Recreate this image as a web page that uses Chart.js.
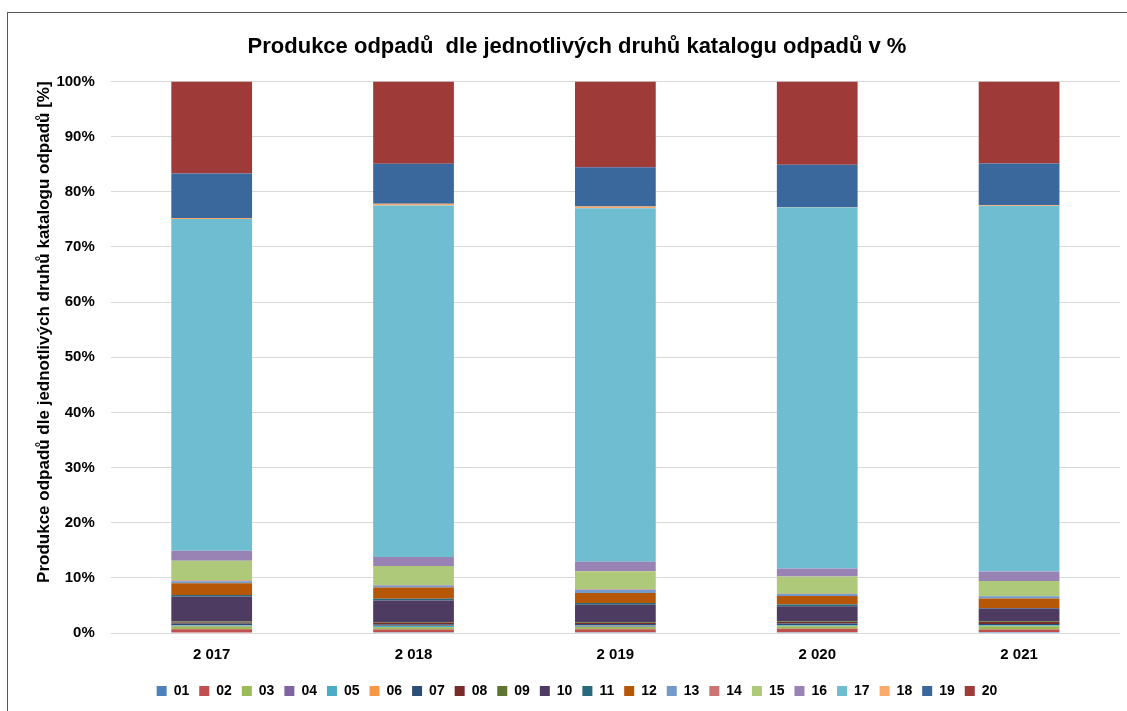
<!DOCTYPE html>
<html lang="cs">
<head>
<meta charset="utf-8">
<title>Produkce odpadů</title>
<script src="https://cdn.jsdelivr.net/npm/chart.js@4.4.1/dist/chart.umd.min.js"></script>
<style>
  html, body { margin: 0; padding: 0; background: #fff; }
  #wrap { width: 1127px; height: 711px; position: relative; }
</style>
</head>
<body>
<div id="wrap"><canvas id="graf"></canvas></div>
<script>
// Roky (popisky osy X)
const roky = ['2 017', '2 018', '2 019', '2 020', '2 021'];

// Skupiny katalogu odpadů
const skupiny = ['01', '02', '03', '04', '05', '06', '07', '08', '09', '10',
                 '11', '12', '13', '14', '15', '16', '17', '18', '19', '20'];

// Podíly jednotlivých skupin v %, roky 2017–2021
const s01 = [0.10, 0.15, 0.15, 0.15, 0.20];
const s02 = [0.60, 0.50, 0.54, 0.60, 0.44];
const s03 = [0.50, 0.40, 0.42, 0.49, 0.60];
const s04 = [0.05, 0.05, 0.05, 0.05, 0.05];
const s05 = [0.10, 0.15, 0.15, 0.10, 0.10];
const s06 = [0.05, 0.05, 0.05, 0.05, 0.05];
const s07 = [0.30, 0.30, 0.25, 0.30, 0.20];
const s08 = [0.20, 0.25, 0.20, 0.25, 0.35];
const s09 = [0.20, 0.15, 0.15, 0.15, 0.15];
const s10 = [4.50, 3.90, 3.14, 2.72, 2.30];
const s11 = [0.30, 0.30, 0.36, 0.30, 0.10];
const s12 = [2.10, 2.05, 1.80, 1.56, 1.70];
const s13 = [0.40, 0.36, 0.60, 0.36, 0.42];
const s14 = [0.10, 0.10, 0.05, 0.05, 0.05];
const s15 = [3.60, 3.45, 3.30, 3.10, 2.72];
const s16 = [1.80, 1.60, 1.70, 1.45, 1.70];
const s17 = [60.15, 63.74, 64.11, 65.47, 66.30];
const s18 = [0.20, 0.30, 0.30, 0.05, 0.10];
const s19 = [8.05, 7.26, 7.13, 7.70, 7.57];
const s20 = [16.70, 14.94, 15.55, 15.10, 14.90];

const hodnoty = [s01, s02, s03, s04, s05, s06, s07, s08, s09, s10,
                 s11, s12, s13, s14, s15, s16, s17, s18, s19, s20];

// Barvy (paleta Office)
const barvy = ['#4F81BD', '#C0504D', '#9BBB59', '#8064A2', '#4BACC6',
               '#F79646', '#2C4D75', '#772C2A', '#5F7530', '#4D3B62',
               '#276A7C', '#B65708', '#729ACA', '#CD7371', '#AFC97A',
               '#9983B5', '#6FBDD1', '#F9AB6B', '#3A679C', '#9E3B39'];

const pismo = "'Liberation Sans', Arial, sans-serif";

// Rámeček kolem celého grafu
const ramecek = {
    id: 'ramecek',
    beforeDraw(chart) {
        const ctx = chart.ctx;
        ctx.save();
        ctx.fillStyle = '#fff';
        ctx.fillRect(0, 0, chart.width, chart.height);
        ctx.strokeStyle = '#595959';
        ctx.lineWidth = 1;
        ctx.strokeRect(7.5, 12.5, chart.width + 20, chart.height + 20);
        ctx.restore();
    }
};

const ctx = document.getElementById('graf').getContext('2d');

new Chart(ctx, {
    type: 'bar',
    data: {
        labels: roky,
        datasets: skupiny.map((nazev, i) => ({
            label: nazev,
            data: hodnoty[i],
            backgroundColor: barvy[i],
            borderWidth: 0,
            barPercentage: 0.4,
            categoryPercentage: 1.0
        }))
    },
    options: {
        responsive: true,
        maintainAspectRatio: false,
        animation: false,
        layout: {
            padding: { left: 34, right: 7, top: 0, bottom: 3 }
        },
        scales: {
            x: {
                stacked: true,
                grid: { display: false },
                border: { display: false },
                ticks: {
                    color: '#000',
                    padding: 5,
                    font: { size: 15, weight: 'bold', family: pismo }
                },
                // trochu místa navíc mezi popisky a legendou
                afterFit: (osa) => { osa.height += 5; }
            },
            y: {
                stacked: true,
                min: 0,
                max: 100,
                grid: { color: '#d9d9d9', lineWidth: 1, drawTicks: false },
                border: { display: false },
                ticks: {
                    stepSize: 10,
                    color: '#000',
                    padding: 16,
                    font: { size: 15, weight: 'bold', family: pismo },
                    callback: v => v + '%'
                },
                title: {
                    display: true,
                    align: 'end',
                    text: 'Produkce odpadů dle jednotlivých druhů katalogu odpadů [%]',
                    color: '#000',
                    padding: { top: 0, bottom: -14 },
                    font: { size: 17, weight: 'bold', family: pismo }
                }
            }
        },
        plugins: {
            title: {
                display: true,
                text: 'Produkce odpadů  dle jednotlivých druhů katalogu odpadů v %',
                color: '#000',
                padding: { top: 34, bottom: 21 },
                font: { size: 22, weight: 'bold', family: pismo }
            },
            legend: {
                position: 'bottom',
                labels: {
                    color: '#000',
                    boxWidth: 10,
                    boxHeight: 10,
                    padding: 10,
                    font: { size: 14, weight: 'bold', family: pismo }
                }
            },
            tooltip: { enabled: false }
        }
    },
    plugins: [ramecek]
});
</script>
</body>
</html>
